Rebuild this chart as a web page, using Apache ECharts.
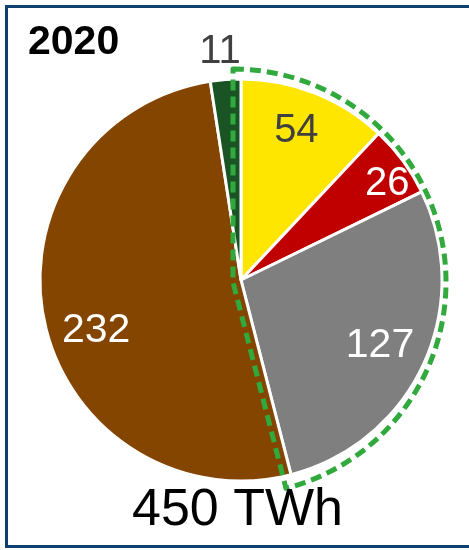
<!DOCTYPE html>
<html>
<head>
<meta charset="utf-8">
<title>2020</title>
<script src="https://cdn.jsdelivr.net/npm/echarts@6/dist/echarts.min.js"></script>
<style>
  html, body { margin: 0; padding: 0; background: #ffffff; }
  #chart { width: 469px; height: 550px; }
</style>
</head>
<body>
<div id="chart"></div>
<script>
// Generation by source, TWh (clockwise from 12 o'clock)
const categories = ['Source A', 'Source B', 'Source C', 'Source D', 'Source E'];
const values = [54, 26, 127, 232, 11];
// Slices outlined together by the dashed boundary
const groupedIdx = [0, 1, 2];
const yearLabel = '2020';
const totalUnit = 'TWh';

const sliceColors = ['#FFE600', '#C00000', '#7F7F7F', '#844500', '#1A5424'];
const labelColors = ['#404040', '#ffffff', '#ffffff', '#ffffff', '#404040'];
// Small per-label nudges away from the ring's mid-point
const labelNudge = [[-5, 3], [-5, 16], [1, 2], [4, 20], [-3, 7]];
const FONT = '"Liberation Sans", Arial, sans-serif';

const CX = 241, CY = 280, R = 201;

const total = values.reduce((a, b) => a + b, 0);
const groupSum = groupedIdx.reduce((a, i) => a + values[i], 0);

// Transparent ring whose mid-radius carries the labels of the chosen slices
function labelRing(showIdx, r0, r1, fontSize) {
  return {
    type: 'pie',
    silent: true,
    center: [CX, CY],
    radius: [r0, r1],
    startAngle: 90,
    clockwise: true,
    z: 5,
    labelLine: { show: false },
    emphasis: { disabled: true },
    labelLayout: function (p) {
      const n = labelNudge[p.dataIndex];
      return { dx: n[0], dy: n[1] };
    },
    data: values.map((v, i) => ({
      name: categories[i],
      value: v,
      itemStyle: { color: 'transparent', borderWidth: 0 },
      label: {
        show: showIdx.indexOf(i) >= 0,
        position: 'inside',
        formatter: '{c}',
        overflow: 'none',
        color: labelColors[i],
        fontFamily: FONT,
        fontSize: fontSize
      }
    }))
  };
}

const chart = echarts.init(document.getElementById('chart'), null, { renderer: 'canvas' });

chart.setOption({
  animation: false,
  backgroundColor: '#ffffff',
  graphic: [
    {
      type: 'rect',
      shape: { x: 6.5, y: 6.5, width: 480, height: 540 },
      style: { fill: 'transparent', stroke: '#0E3F6F', lineWidth: 3 },
      z: 0
    },
    {
      type: 'text',
      left: 28,
      top: 22,
      style: { text: yearLabel, font: 'bold 41px ' + FONT, fill: '#000000' },
      z: 10
    },
    {
      type: 'text',
      left: 132,
      top: 485,
      style: { text: total + ' ' + totalUnit, font: '52px ' + FONT, fill: '#000000' },
      z: 10
    }
  ],
  series: [
    {
      type: 'pie',
      silent: true,
      center: [CX, CY],
      radius: [0, R],
      startAngle: 90,
      clockwise: true,
      z: 2,
      label: { show: false },
      labelLine: { show: false },
      emphasis: { disabled: true },
      itemStyle: { borderColor: '#ffffff', borderWidth: 3 },
      data: values.map((v, i) => ({
        name: categories[i],
        value: v,
        itemStyle: { color: sliceColors[i] }
      }))
    },
    // Dashed outline around the grouped slices
    {
      type: 'pie',
      silent: true,
      center: [CX - 8, CY + 2],
      radius: [0, 213],
      startAngle: 90,
      clockwise: true,
      z: 4,
      label: { show: false },
      labelLine: { show: false },
      emphasis: { disabled: true },
      data: [
        {
          name: 'group',
          value: groupSum,
          itemStyle: {
            color: 'transparent',
            borderColor: '#31A93C',
            borderWidth: 5,
            borderType: [11, 6]
          }
        },
        {
          name: 'rest',
          value: total - groupSum,
          itemStyle: { color: 'transparent', borderWidth: 0 }
        }
      ]
    },
    labelRing([0], 141, 181, 40),
    labelRing([1], 175, 195, 40),
    labelRing([2, 3], 129, 169, 41),
    labelRing([4], 223, 243, 40)
  ]
});
</script>
</body>
</html>
